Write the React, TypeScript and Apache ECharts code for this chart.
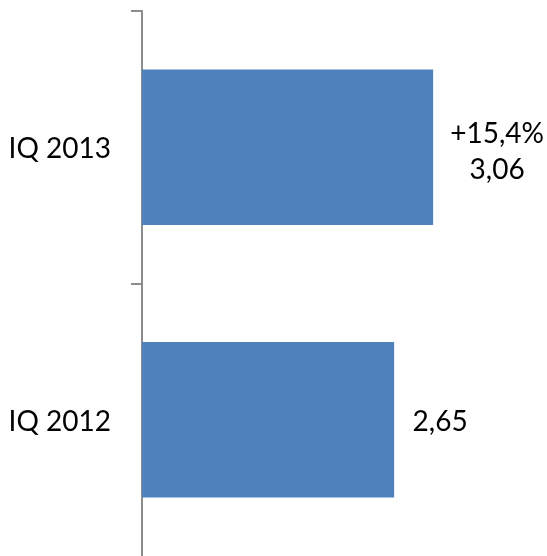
import React, { useEffect, useRef } from "react";
import * as echarts from "echarts";

const categories = ["IQ 2012", "IQ 2013"];
const values = [2.65, 3.06];
const changeLabels = ["", "+15,4%"];
const tickPositions = [1, 2];

export default function App() {
  const ref = useRef<HTMLDivElement>(null);
  useEffect(() => {
    if (!ref.current) return;
    const chart = echarts.init(ref.current, null, { renderer: "svg" });
    const fontFamily = "Lato";
    const fmt = (v: number) => v.toFixed(2).replace(".", ",");
    chart.setOption({
      animation: false,
      grid: { left: 142, right: 72, top: 11, height: 545 },
      xAxis: {
        type: "value",
        min: 0,
        max: 3.5,
        show: false,
      },
      yAxis: [
        {
          type: "category",
          data: categories,
          axisLine: { show: true, lineStyle: { color: "#8c8c8c", width: 2 } },
          axisTick: { show: false },
          axisLabel: { color: "#000", fontSize: 28, fontFamily, margin: 31 },
          splitLine: { show: false },
        },
        {
          type: "value",
          position: "left",
          min: 0,
          max: 2,
          interval: 1,
          axisLine: { show: false },
          axisLabel: { show: false },
          splitLine: { show: false },
          axisTick: {
            show: true,
            length: 11,
            customValues: tickPositions,
            lineStyle: { color: "#8c8c8c", width: 2 },
          },
        },
      ],
      series: [
        {
          type: "bar",
          yAxisIndex: 0,
          barCategoryGap: "43%",
          itemStyle: { color: "#4f81bd" },
          data: values.map((v, i) => ({
            value: v,
            label: {
              show: true,
              position: "right",
              align: "center",
              distance: changeLabels[i] ? 64 : 46,
              offset: changeLabels[i] ? [0, 3] : [0, 0],
              color: "#000",
              fontSize: 28,
              fontFamily,
              lineHeight: 36,
              formatter: () => (changeLabels[i] ? changeLabels[i] + "\n" : "") + fmt(v),
            },
          })),
        },
      ],
    });
    return () => chart.dispose();
  }, []);
  return (
    <div
      ref={ref}
      style={{ position: "fixed", left: 0, top: 0, width: 547, height: 570 }}
    />
  );
}
